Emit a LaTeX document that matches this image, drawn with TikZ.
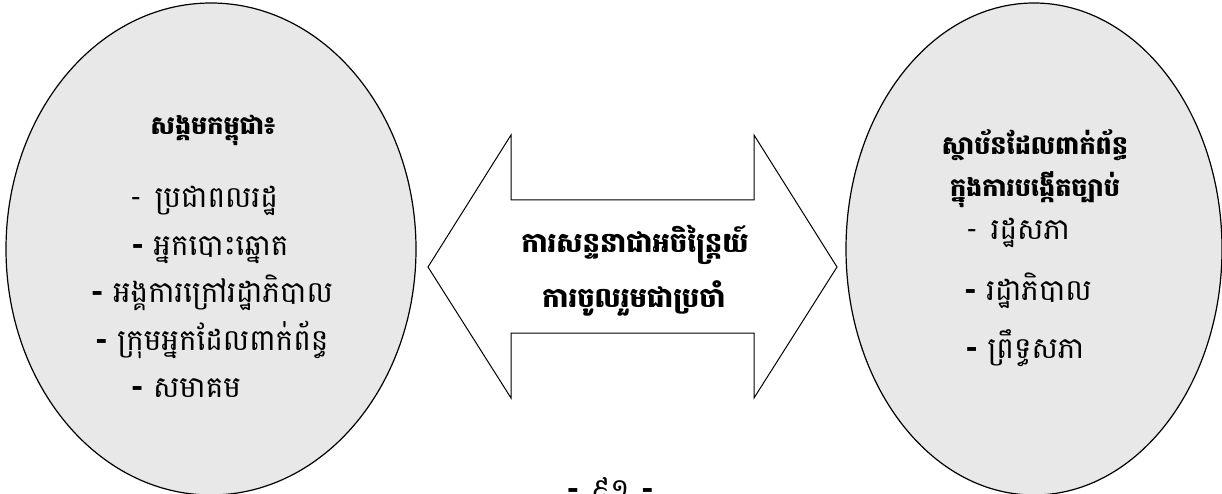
\documentclass[tikz,border=0pt]{standalone}
\usepackage{fontspec}
\newfontfamily\khmer[Script=Khmer]{Battambang}
\definecolor{ovalgray}{RGB}{232,232,232}
\newcommand{\bdash}{{\bfseries -}}
\begin{document}
\begin{tikzpicture}[x=1pt,y=-1pt,
  oval/.style={draw=black,line width=1.2pt,fill=ovalgray},
  arrowshape/.style={draw=black,line width=1pt,fill=white,line join=miter},
  ttl/.style={font=\khmer\bfseries\fontsize{25.5}{30}\selectfont,anchor=base,inner sep=0pt},
  itm/.style={font=\khmer\fontsize{29.5}{34}\selectfont,anchor=base,inner sep=0pt},
  mid/.style={font=\khmer\bfseries\fontsize{27.5}{32}\selectfont,anchor=base,inner sep=0pt}]
\useasboundingbox (0,0) rectangle (1222,494);
% ovals
\draw[oval] (211,249) ellipse[x radius=205,y radius=246];
\draw[oval] (1034,249) ellipse[x radius=188,y radius=246];
% double arrow
\coordinate (lt) at (428,267);
\coordinate (rt) at (837,267);
\draw[arrowshape] (lt) -- (511,135) -- (511,200) -- (754,200) -- (754,135) -- (rt)
  -- (754,398) -- (754,333) -- (511,333) -- (511,398) -- cycle;
% left oval texts
\node[ttl] (lttl) at (213,135) {សង្គមកម្ពុជា៖};
\node[itm] (l1) at (204,208) {-\hspace{0.45em}ប្រជាពលរដ្ឋ};
\node[itm] (l2) at (210,255) {\bdash{} អ្នកបោះឆ្នោត};
\node[itm] (l3) at (212,302) {\bdash{} អង្គការក្រៅរដ្ឋាភិបាល};
\node[itm] (l4) at (212,350) {\bdash{} ក្រុមអ្នកដែលពាក់ព័ន្ធ};
\node[itm] (l5) at (186,397) {\bdash{} សមាគម};
% middle texts
\node[mid] (m1) at (635,252) {ការសន្ទនាជាអចិន្ត្រៃយ៍};
\node[mid] (m2) at (634,307) {ការចូលរួមជាប្រចាំ};
% right oval texts
\node[ttl] (r0) at (1035,155) {ស្ថាប័នដែលពាក់ព័ន្ធ};
\node[ttl] (r00) at (1035,197) {ក្នុងការបង្កើតច្បាប់};
\node[itm] (r1) at (1018,240) {-\hspace{0.45em}រដ្ឋសភា};
\node[itm] (r2) at (1028,300) {\bdash{} រដ្ឋាភិបាល};
\node[itm] (r3) at (1025,358) {\bdash{} ព្រឹទ្ធសភា};
% page number
\node[itm] (pg) at (610,499) {\bdash\hspace{0.4em}៩១\hspace{0.4em}\bdash};
\end{tikzpicture}
\end{document}
